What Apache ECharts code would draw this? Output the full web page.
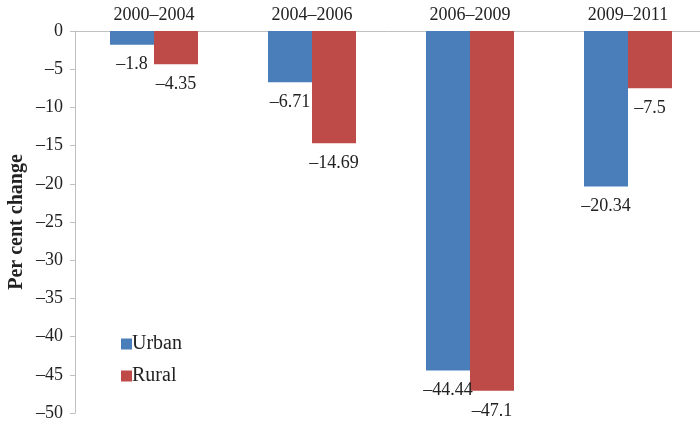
<!DOCTYPE html>
<html>
<head>
<meta charset="utf-8">
<script src="https://cdn.jsdelivr.net/npm/echarts@6/dist/echarts.min.js"></script>
<style>
  html, body { margin: 0; padding: 0; background: #fff; }
  #chart { width: 700px; height: 424px; }
</style>
</head>
<body>
<div id="chart"></div>
<script>
var chart = echarts.init(document.getElementById('chart'));

const periods = ['2000\u20132004', '2004\u20132006', '2006\u20132009', '2009\u20132011'];
const urban = [-1.8, -6.71, -44.44, -20.34];
const rural = [-4.35, -14.69, -47.1, -7.5];

const serif = 'Liberation Serif';

// printed minus sign is an en dash
function dash(v) {
  return String(v).replace('-', '\u2013');
}

const labelStyle = {
  show: true,
  position: 'bottom',
  distance: 11,
  fontFamily: serif,
  fontSize: 18,
  color: '#222',
  formatter: function (p) { return dash(p.value); }
};

const option = {
  animation: false,
  grid: { left: 75, top: 31, width: 632, height: 382, outerBoundsMode: 'none', containLabel: false },
  legend: {
    orient: 'vertical',
    left: 116,
    top: 329,
    itemWidth: 11,
    itemHeight: 11,
    itemGap: 12,
    icon: 'rect',
    textStyle: { fontFamily: serif, fontSize: 20, color: '#222', padding: [0, 0, 0, -5] },
    data: ['Urban', 'Rural']
  },
  xAxis: {
    type: 'category',
    position: 'top',
    data: periods,
    axisLine: { lineStyle: { color: '#c0c0c0', width: 1 } },
    axisTick: { inside: true, length: 4, lineStyle: { color: '#c0c0c0' } },
    axisLabel: { fontFamily: serif, fontSize: 18, color: '#222', margin: 7 }
  },
  yAxis: {
    type: 'value',
    min: -50,
    max: 0,
    interval: 5,
    name: 'Per cent change',
    nameLocation: 'middle',
    nameGap: 48,
    nameMoveOverlap: false,
    nameTextStyle: { fontFamily: serif, fontSize: 20, fontWeight: 'bold', color: '#222' },
    axisLine: { show: true, lineStyle: { color: '#c0c0c0', width: 1 } },
    axisTick: { show: true, length: 5, lineStyle: { color: '#c0c0c0' } },
    splitLine: { show: false },
    axisLabel: {
      fontFamily: serif, fontSize: 18, color: '#222', margin: 12,
      formatter: function (v) { return dash(v); }
    }
  },
  series: [
    {
      name: 'Urban',
      type: 'bar',
      data: urban,
      barWidth: 44,
      barGap: '0%',
      itemStyle: { color: '#4a7ebb' },
      label: labelStyle
    },
    {
      name: 'Rural',
      type: 'bar',
      data: rural,
      barWidth: 44,
      itemStyle: { color: '#be4b48' },
      label: labelStyle
    }
  ]
};

chart.setOption(option);
</script>
</body>
</html>
